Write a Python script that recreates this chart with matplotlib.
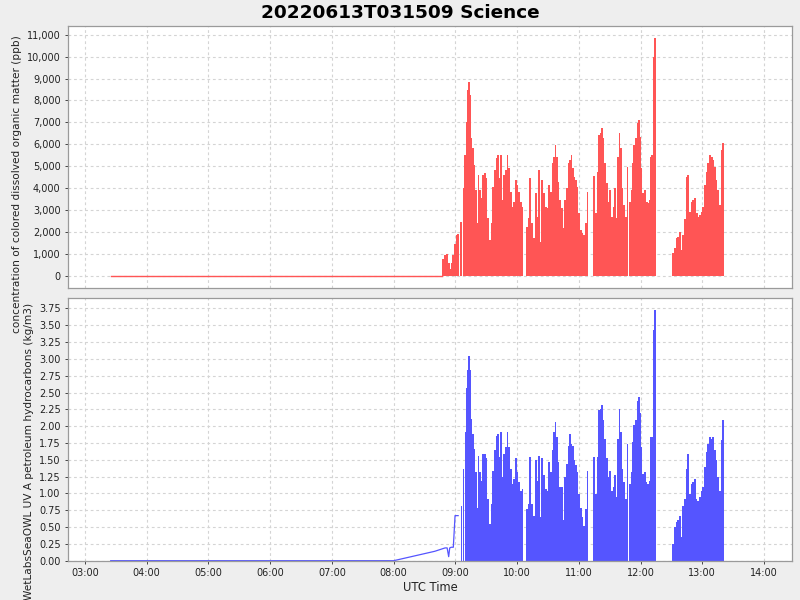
import matplotlib.pyplot as plt
import matplotlib.ticker as mticker

# times are minutes after 00:00 UTC
# flat part before the bursts
base_t = [205, 527]
cdom_base = [0, 0]

# blue ramp before 09:00 (a thin line, not filled)
hc_ramp_t = [205, 480, 500, 520, 530, 532, 533.5, 534.5, 536, 538, 539.7, 541, 542.7]
hc_ramp = [0, 0, 0.07, 0.14, 0.19, 0.19, 0.06, 0.19, 0.2, 0.2, 0.67, 0.67, 0.67]

# first small red bumps 08:48 - 09:03
cdom_pre_t = [527.9, 529.9, 531.8, 533.5, 535.1, 536.4, 538.0, 539.7, 541.0, 542.7]
cdom_pre = [805, 988, 1030, 590, 318, 590, 960, 1456, 1866, 1942]

# main bursts, peak values
t_min = [545.8, 547.8, 549.7, 550.7, 551.7, 553.3, 554.3, 555.6, 557.2, 558.2,
         559.8, 561.4, 562.4, 563.7, 565.3, 566.9, 568.5, 570.2, 571.8, 573.4,
         575.0, 576.6, 578.3, 579.9, 581.5, 582.8, 584.1, 585.7, 587.3, 589.0,
         590.6, 592.2, 593.8, 595.5, 597.1, 598.7, 600.3, 601.9, 603.6, 605.2,
         609.4, 611.0, 612.6, 614.3, 616.5, 618.2, 619.8, 621.4, 623.0, 624.3,
         626.3, 627.9, 629.5, 631.1, 632.7, 634.4, 636.0, 637.3, 638.6, 640.2,
         641.8, 643.5, 645.1, 646.7, 648.3, 649.9, 651.6, 652.9, 654.2, 655.8,
         657.4, 658.7, 660.3, 661.9, 663.6, 665.2, 666.8, 668.4,
         674.9, 676.5, 678.2, 679.8, 681.4, 682.7, 684.0, 685.6, 687.2, 688.9,
         690.5, 692.1, 693.7, 695.3, 697.0, 698.3, 699.6, 700.9, 702.5, 704.1,
         705.7, 707.3, 709.9, 711.2, 712.9, 713.8, 715.4, 717.1, 718.4, 719.7,
         721.0, 722.6, 724.3, 725.9, 727.5, 728.8, 730.1, 731.1, 732.7, 734.3,
         751.8, 753.4, 755.0, 756.6, 758.3, 759.9, 761.5, 763.1, 764.7, 766.4,
         768.0, 769.6, 771.2, 772.8, 774.5, 776.1, 777.7, 779.3, 781.0, 782.6,
         784.2, 785.8, 787.4, 789.1, 790.7, 792.3, 793.9, 795.5, 797.2, 798.0,
         799.3, 800.2]

cdom = [2488, 4005, 5522, 7040, 8480, 8860, 8253, 6280, 5825, 5067,
        3930, 2412, 4612, 3930, 3550, 4612, 4688, 4460, 2640, 1650,
        2412, 4081, 4840, 5370, 5522, 4460, 5522, 3474, 4612, 4840,
        5522, 4915, 3853, 3170, 3398, 4384, 4157, 3853, 3398, 3170,
        2260, 2640, 4460, 2412, 1730, 3777, 2715, 4840, 1578, 4384,
        3777, 3170, 3095, 4157, 3853, 5143, 5446, 5977, 5446, 4308,
        3474, 3095, 2184, 3474, 4005, 5143, 5294, 5522, 4915, 4536,
        4384, 4081, 2867, 2108, 1957, 1881, 2412, 3853,
        4566, 2867, 4764, 6432, 6508, 6735, 6280, 5143, 4233, 3398,
        3930, 2715, 3170, 4005, 2640, 5446, 6508, 5825, 4005, 3246,
        2715, 4991, 3398, 3930, 5143, 5977, 6280, 6963, 7115, 6356,
        4915, 3777, 3930, 3398, 3322, 3474, 5446, 5522, 9997, 10832,
        1047, 1274, 1730, 1805, 2033, 1198, 1881, 2594, 4536, 4612,
        2943, 3398, 3474, 3550, 2867, 2715, 2791, 2943, 3170, 4157,
        4764, 5143, 5522, 5446, 5294, 4991, 4384, 3930, 3246, 2003,
        5735, 6054]

hc = [0.82, 1.37, 1.91, 2.56, 2.83, 3.04, 2.83, 2.11, 1.89, 1.66,
      1.32, 0.79, 1.56, 1.32, 1.19, 1.59, 1.59, 1.52, 0.92, 0.55,
      0.84, 1.34, 1.64, 1.86, 1.89, 1.54, 1.91, 1.24, 1.59, 1.69,
      1.91, 1.69, 1.37, 1.14, 1.22, 1.52, 1.32, 1.17, 1.04, 1.07,
      0.77, 0.84, 1.54, 0.84, 0.67, 1.49, 1.19, 1.56, 0.65, 1.52,
      1.27, 1.07, 1.04, 1.47, 1.32, 1.64, 1.91, 2.06, 1.84, 1.47,
      1.09, 1.09, 0.60, 1.24, 1.44, 1.71, 1.89, 1.74, 1.71, 1.49,
      1.42, 1.32, 0.99, 0.79, 0.65, 0.52, 0.77, 1.34,
      1.54, 0.99, 1.54, 2.24, 2.26, 2.31, 2.09, 1.81, 1.52, 1.24,
      1.34, 1.04, 1.09, 1.27, 0.94, 1.81, 2.26, 1.91, 1.37, 1.17,
      0.92, 1.74, 1.14, 1.32, 1.76, 2.01, 2.09, 2.38, 2.43, 2.19,
      1.69, 1.29, 1.32, 1.17, 1.14, 1.19, 1.84, 1.84, 3.43, 3.72,
      0.25, 0.50, 0.57, 0.60, 0.67, 0.35, 0.82, 0.92, 1.37, 1.59,
      0.99, 1.14, 1.17, 1.22, 0.92, 0.89, 0.94, 1.04, 1.09, 1.39,
      1.61, 1.74, 1.84, 1.81, 1.84, 1.64, 1.49, 1.24, 1.04, 0.65,
      1.79, 2.09]

hour_ticks = list(range(180, 841, 60))

RED = '#ff5555'
BLUE = '#5555ff'
GRID = '#d4d4d4'
FRAME = '#9a9a9a'

fig = plt.figure(figsize=(8, 6), dpi=100, facecolor='#eeeeee')
ax1 = fig.add_axes([0.0854, 0.52, 0.9046, 0.4367])
ax2 = fig.add_axes([0.0854, 0.0655, 0.9046, 0.4373])


def hhmm(v, pos):
    return '%02d:%02d' % (int(v // 60), int(round(v % 60)))


for ax in (ax1, ax2):
    ax.set_facecolor('white')
    ax.set_xlim(163.8, 867.2)
    ax.set_xticks(hour_ticks)
    ax.xaxis.set_major_formatter(mticker.FuncFormatter(hhmm))
    ax.grid(True, color=GRID, linestyle=(0, (2.5, 2.5)), linewidth=0.8)
    ax.set_axisbelow(True)
    for s in ax.spines.values():
        s.set_color(FRAME)
        s.set_linewidth(0.9)
    ax.tick_params(labelsize=7, colors='#444444', length=2, width=0.7,
                   labelcolor='#222222')

# top: CDOM
ax1.plot(base_t, cdom_base, color=RED, lw=1)
ax1.bar(cdom_pre_t, cdom_pre, width=1.7, color=RED, linewidth=0)
ax1.bar(t_min, cdom, width=1.7, color=RED, linewidth=0)
ax1.set_ylim(-530, 11390)
ax1.set_yticks(range(0, 11001, 1000))
ax1.yaxis.set_major_formatter(mticker.FuncFormatter(lambda v, p: f'{int(v):,}'))
ax1.tick_params(axis='x', labelbottom=False, length=0)

# bottom: petroleum hydrocarbons
ax2.plot(hc_ramp_t, hc_ramp, color=BLUE, lw=0.9)
ax2.bar(t_min, hc, width=1.6, color=BLUE, linewidth=0)
ax2.set_ylim(0, 3.9)
ax2.set_yticks([i * 0.25 for i in range(16)])
ax2.yaxis.set_major_formatter(mticker.FormatStrFormatter('%.2f'))
ax2.set_xlabel('UTC Time', fontsize=8.3, color='#222222', labelpad=2)

fig.suptitle('20220613T031509 Science', fontsize=13.3, fontweight='bold',
             y=0.993, va='top')
fig.text(0.021, 0.693, 'concentration of colored dissolved organic matter (ppb)',
         rotation=90, ha='center', va='center', fontsize=7.6, color='#222222')
fig.text(0.0366, 0.495, 'WetLabsSeaOWL UV A petroleum hydrocarbons (kg/m3)',
         rotation=90, ha='center', va='top', fontsize=7.6, color='#222222')

fig.savefig('out.png', dpi=100, facecolor=fig.get_facecolor())
